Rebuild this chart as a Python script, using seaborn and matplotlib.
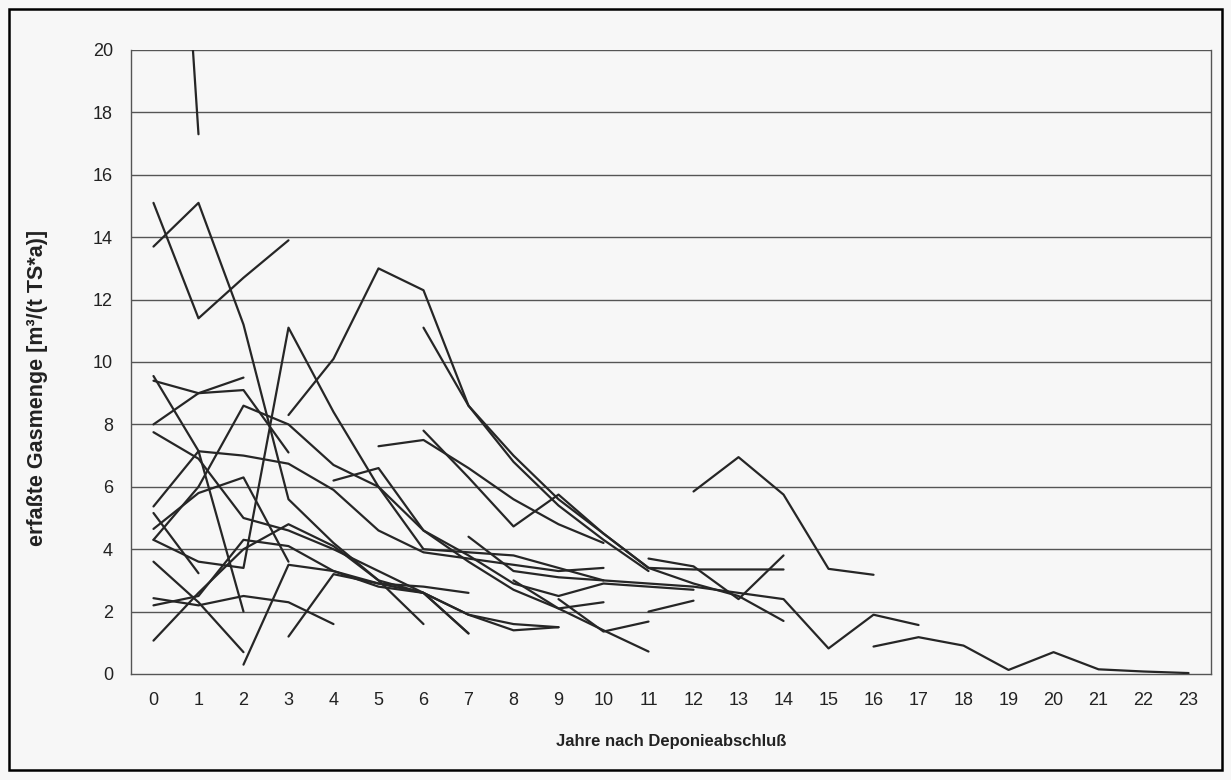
import numpy as np
import pandas as pd
import matplotlib
matplotlib.use('Agg')
import matplotlib.pyplot as plt
import seaborn as sns
from matplotlib.patches import Rectangle

# years after landfill closure (category axis 0..23)
years = list(range(24))

# each landfill: first year with data, then the yearly values [m3/(t TS*a)]
start_a, dep_a = 0, [39.2, 17.3]
start_b, dep_b = 0, [15.1, 11.4, 12.7, 13.9]
start_c, dep_c = 0, [13.7, 15.1, 11.2, 5.6, 4.2, 3.0, 2.6, 1.3]
start_d, dep_d = 0, [9.55, 7.15, 2.0]
start_e, dep_e = 0, [9.4, 9.0, 9.1, 7.1]
start_f, dep_f = 0, [8.0, 9.0, 9.5]
start_g, dep_g = 0, [7.75, 6.9, 5.0, 4.6, 4.0, 3.3, 2.6, 1.9, 1.4, 1.5]
start_h, dep_h = 0, [5.37, 7.14, 7.0, 6.74, 5.9, 4.6, 3.9, 3.7, 3.5, 3.3, 3.4]
start_i, dep_i = 0, [5.16, 3.23]
start_j, dep_j = 0, [4.65, 5.8, 6.3, 3.6]
start_k, dep_k = 0, [4.3, 6.0, 8.6, 8.0, 6.7, 6.0, 4.6, 3.6, 2.7, 2.1, 2.3]
start_l, dep_l = 0, [4.3, 3.6, 3.4, 11.1, 8.4, 6.0, 4.0, 3.9, 3.8, 3.4, 3.0]
start_m, dep_m = 0, [3.6, 2.3, 0.7]
start_n, dep_n = 0, [2.43, 2.2, 2.5, 2.3, 1.6]
start_o, dep_o = 0, [2.2, 2.5, 4.3, 4.1, 3.3, 2.8, 2.6, 1.3]
start_p, dep_p = 0, [1.07, 2.6, 4.0, 4.8, 4.1, 3.0, 1.6]
start_q, dep_q = 2, [0.3, 3.5, 3.3, 2.9, 2.6, 1.9, 1.6, 1.5]
start_r, dep_r = 3, [8.3, 10.1, 13.0, 12.3, 8.6, 7.0, 5.6, 4.5, 3.4, 2.9, 2.5, 1.7]
start_s, dep_s = 6, [11.1, 8.6, 6.8, 5.4, 4.3, 3.3]
start_t, dep_t = 4, [6.2, 6.6, 4.6, 3.8, 2.9, 2.5, 2.9, 2.8, 2.7]
start_u, dep_u = 5, [7.3, 7.5, 6.6, 5.6, 4.8, 4.2]
start_v, dep_v = 11, [3.7, 3.45, 2.4, 3.8]
start_w, dep_w = 12, [5.85, 6.95, 5.75, 3.37, 3.18]
start_x, dep_x = 7, [4.4, 3.3, 3.1, 3.0, 2.9, 2.8, 2.6, 2.4, 0.82, 1.9, 1.57]
start_y, dep_y = 16, [0.88, 1.18, 0.91, 0.13, 0.70, 0.15, 0.08, 0.03]
start_z, dep_z = 6, [7.8, 6.3, 4.73, 5.75, 4.5, 3.4, 3.35, 3.35, 3.35]
start_aa, dep_aa = 8, [3.0, 2.1, 1.4, 0.72]
start_bb, dep_bb = 9, [2.4, 1.36, 1.68]
start_cc, dep_cc = 11, [2.0, 2.35]
start_dd, dep_dd = 3, [1.2, 3.2, 2.9, 2.8, 2.6]

all_deps = [
    (start_a, dep_a), (start_b, dep_b), (start_c, dep_c), (start_d, dep_d),
    (start_e, dep_e), (start_f, dep_f), (start_g, dep_g), (start_h, dep_h),
    (start_i, dep_i), (start_j, dep_j), (start_k, dep_k), (start_l, dep_l),
    (start_m, dep_m), (start_n, dep_n), (start_o, dep_o), (start_p, dep_p),
    (start_q, dep_q), (start_r, dep_r), (start_s, dep_s), (start_t, dep_t),
    (start_u, dep_u), (start_v, dep_v), (start_w, dep_w), (start_x, dep_x),
    (start_y, dep_y), (start_z, dep_z), (start_aa, dep_aa), (start_bb, dep_bb),
    (start_cc, dep_cc), (start_dd, dep_dd),
]

rows = []
for n, (s, vals) in enumerate(all_deps):
    for k, v in enumerate(vals):
        rows.append({'Jahr': s + k, 'Gas': v, 'Deponie': n})
df = pd.DataFrame(rows)

sns.set_style('white')
plt.rcParams['font.family'] = ['Liberation Sans', 'DejaVu Sans']

fig = plt.figure(figsize=(12.31, 7.8), dpi=100, facecolor='#f7f7f7')
ax = fig.add_axes([0.1064, 0.1359, 0.8774, 0.8])
ax.set_facecolor('#f7f7f7')

# horizontal grid like the Excel chart
for yv in range(2, 21, 2):
    ax.axhline(yv, color='#555555', lw=1.0, zorder=1)

sns.lineplot(data=df, x='Jahr', y='Gas', units='Deponie', estimator=None,
             color='#262626', lw=1.6, ax=ax, zorder=3, legend=False)

ax.set_xlim(-0.5, 23.5)
ax.set_ylim(0, 20)
ax.set_xticks(years)
ax.set_xticklabels([str(y) for y in years])
ax.set_xticks(np.arange(-0.5, 23.6, 1), minor=True)
ax.tick_params(axis='x', which='major', length=0, pad=13, labelsize=13, colors='#222222')
ax.tick_params(axis='x', which='minor', length=6, width=1, color='#555555', direction='out')
ax.set_yticks(range(0, 21, 2))
ax.tick_params(axis='y', which='major', length=8, width=1, color='#555555', pad=5, labelsize=13, labelcolor='#222222')

for side in ['left', 'bottom', 'right']:
    ax.spines[side].set_color('#555555')
    ax.spines[side].set_linewidth(1.0)
ax.spines['top'].set_visible(False)

ax.set_xlabel('Jahre nach Deponieabschluß', fontsize=12, fontweight='bold', labelpad=18, color='#222222')
ax.set_ylabel('')
fig.text(38 / 1231, 1 - 388 / 780, 'erfaßte Gasmenge [m³/(t TS*a)]', rotation=90,
         ha='center', va='center', fontsize=15.5, fontweight='bold', color='#222222')

# outer frame of the scanned figure
fig.patches.append(Rectangle((0.0075, 0.0125), 0.985, 0.976, transform=fig.transFigure,
                             fill=False, lw=1.8, ec='black'))

fig.savefig('out.png', dpi=100, facecolor=fig.get_facecolor())
